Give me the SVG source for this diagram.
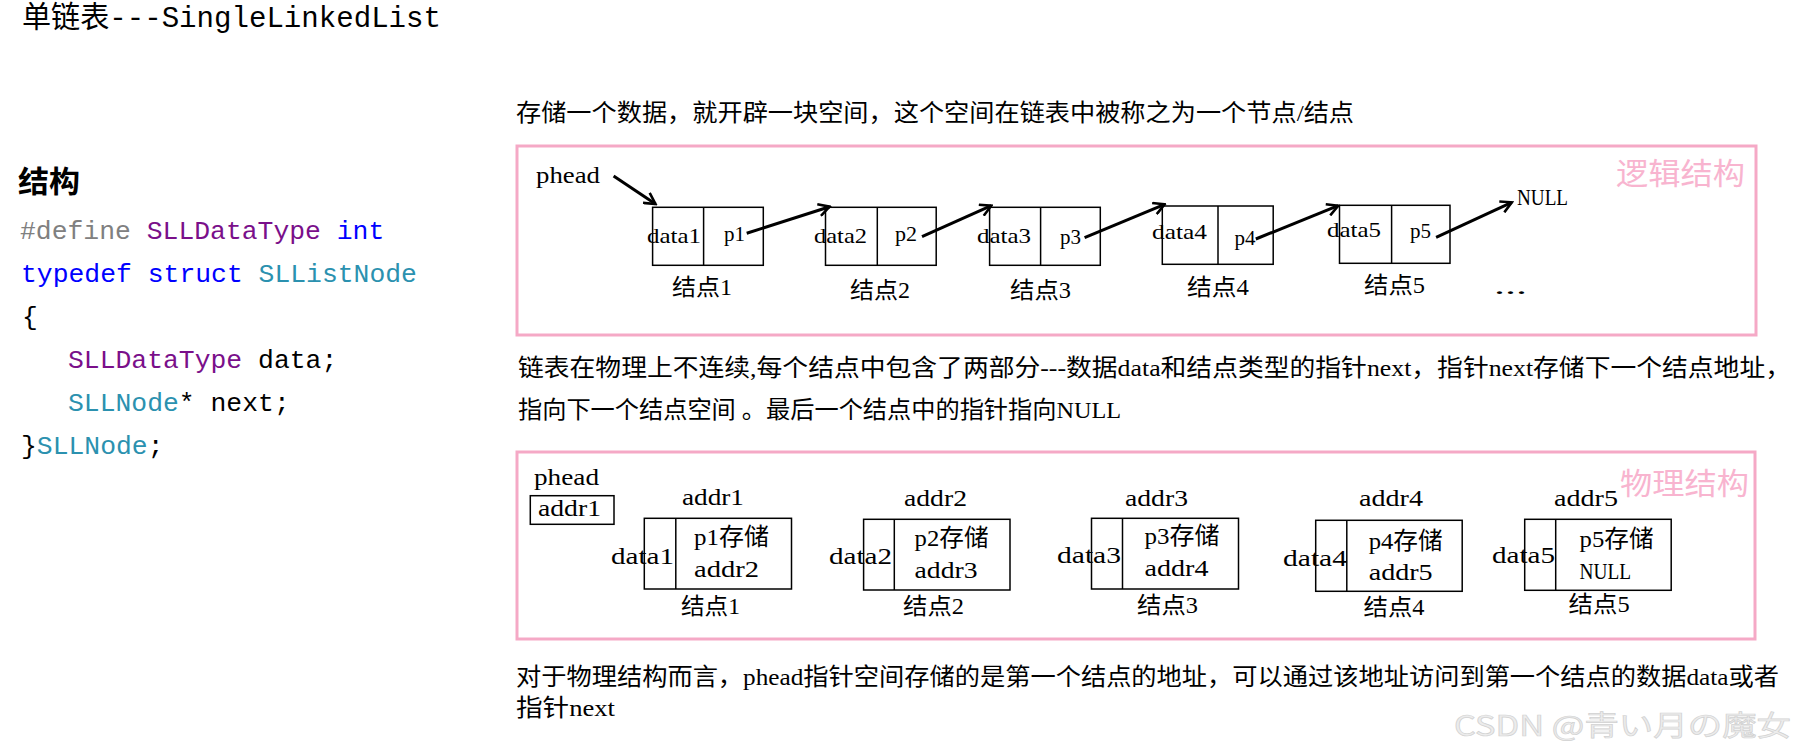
<svg xmlns="http://www.w3.org/2000/svg" width="1798" height="751" viewBox="0 0 1798 751">
<defs>
<style>
.t{font-family:"Liberation Serif","Noto Sans CJK SC",serif;fill:#000}
.m{font-family:"Liberation Mono","Noto Sans CJK SC",monospace}
.cj{font-family:"Noto Sans CJK SC",sans-serif}
.code{font-family:"Liberation Mono",monospace;font-size:26.4px}
.frame{fill:none;stroke:#f5a9c6;stroke-width:3}
.tag{font-family:"Noto Sans CJK SC",sans-serif;fill:#f8b4cf;font-size:30px}
.box{fill:#fff;stroke:#000;stroke-width:1.5}
.div{stroke:#000;stroke-width:1.5}
.arr{stroke:#000;stroke-width:3;fill:none;marker-end:url(#ah)}
.s21{font-size:21px}.s23{font-size:23px}.s24{font-size:24px}
.gray{fill:#808080}.pur{fill:#7a0f8a}.blu{fill:#0000ff}.tea{fill:#2b91af}.blk{fill:#000}
</style>
<marker id="ah" viewBox="0 0 14 14" refX="12" refY="7" markerWidth="14" markerHeight="14" markerUnits="userSpaceOnUse" orient="auto">
<path d="M1,1 L12,7 L1,13" fill="none" stroke="#000" stroke-width="2.6"/>
</marker>
</defs>
<rect width="1798" height="751" fill="#fff"/>

<g id="title">
<text class="m" x="22" y="27" font-size="30" textLength="419" lengthAdjust="spacingAndGlyphs">单链表---SingleLinkedList</text>
</g>

<g id="code">
<text class="cj" x="18" y="192" font-size="30" font-weight="bold" textLength="62" lengthAdjust="spacingAndGlyphs">结构</text>
<text class="code" x="20" y="239"><tspan class="gray">#define</tspan> <tspan class="pur">SLLDataType</tspan> <tspan class="blu">int</tspan></text>
<text class="code" x="21" y="282"><tspan class="blu">typedef</tspan> <tspan class="blu">struct</tspan> <tspan class="tea">SLListNode</tspan></text>
<text class="code blk" x="22" y="325">{</text>
<text class="code" x="68" y="368"><tspan class="pur">SLLDataType</tspan><tspan class="blk"> data;</tspan></text>
<text class="code" x="68" y="411"><tspan class="tea">SLLNode</tspan><tspan class="blk">* next;</tspan></text>
<text class="code" x="21" y="454"><tspan class="blk">}</tspan><tspan class="tea">SLLNode</tspan><tspan class="blk">;</tspan></text>
</g>

<g id="para1">
<text class="t s24" x="516" y="121" textLength="838" lengthAdjust="spacingAndGlyphs">存储一个数据，就开辟一块空间，这个空间在链表中被称之为一个节点/结点</text>
</g>

<g id="logical-frame">
<rect class="frame" x="517" y="146" width="1239" height="189"/>
<text class="tag" x="1616" y="184" textLength="129" lengthAdjust="spacingAndGlyphs">逻辑结构</text>
<text class="t s24" x="536" y="183" textLength="64" lengthAdjust="spacingAndGlyphs">phead</text>
<text class="t s24" x="1517" y="205" textLength="51" lengthAdjust="spacingAndGlyphs">NULL</text>
<text class="t s23" x="1494" y="294" textLength="33" lengthAdjust="spacingAndGlyphs">...</text>
</g>

<g id="lnode1">
<rect class="box" x="652.6" y="207.3" width="110.7" height="58"/>
<line class="div" x1="703.6" y1="207.3" x2="703.6" y2="265.3"/>
<text class="t s21" x="647" y="243" textLength="54" lengthAdjust="spacingAndGlyphs">data1</text>
<text class="t s21" x="724" y="241" textLength="21" lengthAdjust="spacingAndGlyphs">p1</text>
<text class="t s23" x="672" y="295" textLength="60" lengthAdjust="spacingAndGlyphs">结点1</text>
</g>
<g id="lnode2">
<rect class="box" x="825.5" y="207.3" width="110.7" height="58"/>
<line class="div" x1="877.3" y1="207.3" x2="877.3" y2="265.3"/>
<text class="t s21" x="814" y="243" textLength="53" lengthAdjust="spacingAndGlyphs">data2</text>
<text class="t s21" x="895" y="241" textLength="22" lengthAdjust="spacingAndGlyphs">p2</text>
<text class="t s23" x="850" y="298" textLength="60" lengthAdjust="spacingAndGlyphs">结点2</text>
</g>
<g id="lnode3">
<rect class="box" x="989.6" y="207.3" width="110.7" height="58"/>
<line class="div" x1="1040.6" y1="207.3" x2="1040.6" y2="265.3"/>
<text class="t s21" x="977" y="243" textLength="54" lengthAdjust="spacingAndGlyphs">data3</text>
<text class="t s21" x="1060" y="244" textLength="21" lengthAdjust="spacingAndGlyphs">p3</text>
<text class="t s23" x="1010" y="298" textLength="61" lengthAdjust="spacingAndGlyphs">结点3</text>
</g>
<g id="lnode4">
<rect class="box" x="1162.3" y="206" width="110.9" height="58.3"/>
<line class="div" x1="1218" y1="206" x2="1218" y2="264.3"/>
<text class="t s21" x="1152" y="239" textLength="55" lengthAdjust="spacingAndGlyphs">data4</text>
<text class="t s21" x="1234.5" y="245" textLength="21" lengthAdjust="spacingAndGlyphs">p4</text>
<text class="t s23" x="1187" y="295" textLength="62" lengthAdjust="spacingAndGlyphs">结点4</text>
</g>
<g id="lnode5">
<rect class="box" x="1339.5" y="205.3" width="110.5" height="58"/>
<line class="div" x1="1391.6" y1="205.3" x2="1391.6" y2="263.3"/>
<text class="t s21" x="1327" y="237" textLength="54" lengthAdjust="spacingAndGlyphs">data5</text>
<text class="t s21" x="1410" y="238" textLength="21" lengthAdjust="spacingAndGlyphs">p5</text>
<text class="t s23" x="1364" y="293" textLength="61" lengthAdjust="spacingAndGlyphs">结点5</text>
</g>

<g id="connectors">
<line class="arr" x1="613.6" y1="176" x2="655.5" y2="204"/>
<line class="arr" x1="746.7" y1="233.3" x2="829.6" y2="206.7"/>
<line class="arr" x1="922" y1="236.7" x2="991.3" y2="205.7"/>
<line class="arr" x1="1084.6" y1="237.7" x2="1164.6" y2="204.3"/>
<line class="arr" x1="1255.8" y1="239" x2="1338.2" y2="205.7"/>
<line class="arr" x1="1436.1" y1="237.3" x2="1511.8" y2="202.3"/>
</g>

<g id="para2">
<text class="t s24" x="518" y="376" textLength="1273" lengthAdjust="spacingAndGlyphs">链表在物理上不连续,每个结点中包含了两部分---数据data和结点类型的指针next，指针next存储下一个结点地址，</text>
<text class="t s24" x="518" y="418" textLength="603" lengthAdjust="spacingAndGlyphs">指向下一个结点空间 。最后一个结点中的指针指向NULL</text>
</g>

<g id="physical-frame">
<rect class="frame" x="517" y="452" width="1238" height="187"/>
<text class="tag" x="1620" y="494" textLength="129" lengthAdjust="spacingAndGlyphs">物理结构</text>
</g>

<g id="phead">
<text class="t s24" x="534" y="485" textLength="65" lengthAdjust="spacingAndGlyphs">phead</text>
<rect class="box" x="530.3" y="495.7" width="83.7" height="28.6"/>
<text class="t s24" x="538" y="516" textLength="63" lengthAdjust="spacingAndGlyphs">addr1</text>
</g>

<g id="pnode1">
<text class="t s24" x="682" y="505" textLength="62" lengthAdjust="spacingAndGlyphs">addr1</text>
<rect class="box" x="644.3" y="518.3" width="147.2" height="70.7"/>
<line class="div" x1="675.8" y1="518.3" x2="675.8" y2="589"/>
<text class="t s24" x="694" y="545" textLength="75" lengthAdjust="spacingAndGlyphs">p1存储</text>
<text class="t s24" x="694" y="577" textLength="65" lengthAdjust="spacingAndGlyphs">addr2</text>
<text class="t s24" x="611" y="564" textLength="63" lengthAdjust="spacingAndGlyphs">data1</text>
<text class="t s23" x="681" y="614" textLength="59" lengthAdjust="spacingAndGlyphs">结点1</text>
</g>
<g id="pnode2">
<text class="t s24" x="904" y="506" textLength="63" lengthAdjust="spacingAndGlyphs">addr2</text>
<rect class="box" x="863.6" y="519.3" width="146.4" height="70.7"/>
<line class="div" x1="894.3" y1="519.3" x2="894.3" y2="590"/>
<text class="t s24" x="914.6" y="546" textLength="74" lengthAdjust="spacingAndGlyphs">p2存储</text>
<text class="t s24" x="914.6" y="578" textLength="63" lengthAdjust="spacingAndGlyphs">addr3</text>
<text class="t s24" x="829" y="564" textLength="63" lengthAdjust="spacingAndGlyphs">data2</text>
<text class="t s23" x="903" y="614" textLength="61" lengthAdjust="spacingAndGlyphs">结点2</text>
</g>
<g id="pnode3">
<text class="t s24" x="1125" y="506" textLength="63" lengthAdjust="spacingAndGlyphs">addr3</text>
<rect class="box" x="1091.5" y="518.3" width="147" height="70.7"/>
<line class="div" x1="1122.5" y1="518.3" x2="1122.5" y2="589"/>
<text class="t s24" x="1144.5" y="544" textLength="75" lengthAdjust="spacingAndGlyphs">p3存储</text>
<text class="t s24" x="1144.5" y="576" textLength="64" lengthAdjust="spacingAndGlyphs">addr4</text>
<text class="t s24" x="1057" y="563" textLength="64" lengthAdjust="spacingAndGlyphs">data3</text>
<text class="t s23" x="1137" y="613" textLength="61" lengthAdjust="spacingAndGlyphs">结点3</text>
</g>
<g id="pnode4">
<text class="t s24" x="1359" y="506" textLength="64" lengthAdjust="spacingAndGlyphs">addr4</text>
<rect class="box" x="1315.7" y="520.3" width="146.5" height="71"/>
<line class="div" x1="1346.8" y1="520.3" x2="1346.8" y2="591.3"/>
<text class="t s24" x="1368.7" y="549" textLength="74" lengthAdjust="spacingAndGlyphs">p4存储</text>
<text class="t s24" x="1368.7" y="580" textLength="64" lengthAdjust="spacingAndGlyphs">addr5</text>
<text class="t s24" x="1283" y="566" textLength="64" lengthAdjust="spacingAndGlyphs">data4</text>
<text class="t s23" x="1363.5" y="615" textLength="61" lengthAdjust="spacingAndGlyphs">结点4</text>
</g>
<g id="pnode5">
<text class="t s24" x="1554" y="506" textLength="64" lengthAdjust="spacingAndGlyphs">addr5</text>
<rect class="box" x="1524.7" y="519.3" width="146.5" height="71"/>
<line class="div" x1="1555.7" y1="519.3" x2="1555.7" y2="590.3"/>
<text class="t s24" x="1579.6" y="547" textLength="74" lengthAdjust="spacingAndGlyphs">p5存储</text>
<text class="t s24" x="1579.6" y="579" textLength="51.5" lengthAdjust="spacingAndGlyphs">NULL</text>
<text class="t s24" x="1492" y="563" textLength="63" lengthAdjust="spacingAndGlyphs">data5</text>
<text class="t s23" x="1568.6" y="612" textLength="61" lengthAdjust="spacingAndGlyphs">结点5</text>
</g>

<g id="para3">
<text class="t s24" x="516" y="685" textLength="1263" lengthAdjust="spacingAndGlyphs">对于物理结构而言，phead指针空间存储的是第一个结点的地址，可以通过该地址访问到第一个结点的数据data或者</text>
<text class="t s24" x="516" y="716" textLength="99" lengthAdjust="spacingAndGlyphs">指针next</text>
</g>

<g id="watermark">
<text x="1454" y="736" font-family="'Noto Sans CJK JP',sans-serif" font-size="28" fill="#ececec" stroke="#d2d2d2" stroke-width="0.7" textLength="337" lengthAdjust="spacingAndGlyphs">CSDN @青い月の魔女</text>
</g>
</svg>
